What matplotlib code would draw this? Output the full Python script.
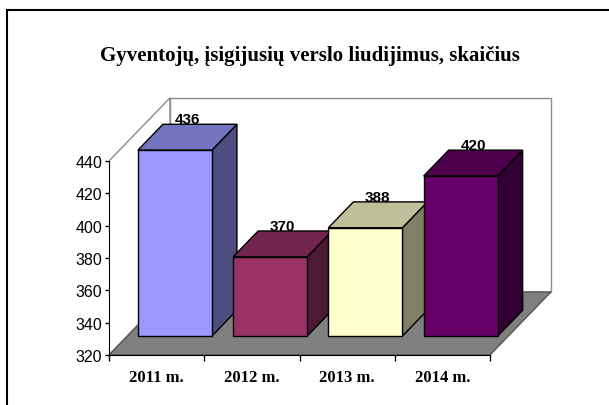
import numpy as np
import matplotlib
matplotlib.use("Agg")
import matplotlib.pyplot as plt
from matplotlib.patches import Polygon, Rectangle
from matplotlib.colors import to_rgb

# === DATA ===
categories = ["2011 m.", "2012 m.", "2013 m.", "2014 m."]
values = [436, 370, 388, 420]
bar_colors = ["#9999FF", "#993366", "#FFFFCC", "#660066"]
title = "Gyventojų, įsigijusių verslo liudijimus, skaičius"
y_ticks = [320, 340, 360, 380, 400, 420, 440]

# === 3D-LOOK SETTINGS (oblique projection in data units) ===
Y_MIN, Y_MAX = 320, 440
DX, DY = 0.64, 39.0          # full floor depth offset (x in categories, y in value units)
Z0, ZB = 0.30, 0.41          # bar front depth and bar depth as fraction of floor depth
BAR_W = 0.777
WALL_EDGE = "#8c8c8c"
FLOOR = "#808080"

W, H = 609, 406
fig = plt.figure(figsize=(W / 100, H / 100), dpi=100)

# axes placed so that the front floor edge / left axis line up with the reference
x_lim = (0, 4.7)
y_lim = (Y_MIN, 480)
px_per_x = 95.25
px_per_y = 1.617
ax = fig.add_axes([109 / W, 50 / H,
                   (x_lim[1] - x_lim[0]) * px_per_x / W,
                   (y_lim[1] - y_lim[0]) * px_per_y / H])
ax.set_xlim(x_lim)
ax.set_ylim(y_lim)
ax.patch.set_visible(False)

n = len(categories)

def shade(c, f):
    r, g, b = to_rgb(c)
    return (r * f, g * f, b * f)

# back wall
ax.add_patch(Polygon([(DX, Y_MIN + DY), (n + DX, Y_MIN + DY), (n + DX, Y_MAX + DY), (DX, Y_MAX + DY)],
                     closed=True, facecolor="white", edgecolor=WALL_EDGE, lw=1, zorder=1))
# left wall
ax.add_patch(Polygon([(0, Y_MIN), (DX, Y_MIN + DY), (DX, Y_MAX + DY), (0, Y_MAX)],
                     closed=True, facecolor="white", edgecolor=WALL_EDGE, lw=1, zorder=1))
# floor
ax.add_patch(Polygon([(0, Y_MIN), (n, Y_MIN), (n + DX, Y_MIN + DY), (DX, Y_MIN + DY)],
                     closed=True, facecolor=FLOOR, edgecolor="#555555", lw=1, zorder=2))

# bars
dxb, dyb = ZB * DX, ZB * DY
for i, (v, c) in enumerate(zip(values, bar_colors)):
    x0 = i + 0.5 - BAR_W / 2 + Z0 * DX
    x1 = x0 + BAR_W
    yb = Y_MIN + Z0 * DY
    yt = v + Z0 * DY - 1
    front = [(x0, yb), (x1, yb), (x1, yt), (x0, yt)]
    top = [(x0, yt), (x1, yt), (x1 + dxb, yt + dyb), (x0 + dxb, yt + dyb)]
    side = [(x1, yb), (x1 + dxb, yb + dyb), (x1 + dxb, yt + dyb), (x1, yt)]
    z = 3 + i
    ax.add_patch(Polygon(side, closed=True, facecolor=shade(c, 0.5), edgecolor="black", lw=1, zorder=z))
    ax.add_patch(Polygon(top, closed=True, facecolor=shade(c, 0.75), edgecolor="black", lw=1, zorder=z))
    ax.add_patch(Polygon(front, closed=True, facecolor=c, edgecolor="black", lw=1, zorder=z))
    ax.text((x0 + x1) / 2 + dxb / 2, yt + dyb - 1, str(v), ha="center", va="bottom",
            fontsize=11, fontweight="bold", family="Liberation Sans", zorder=10)

# axes styling
for s in ["top", "right"]:
    ax.spines[s].set_visible(False)
ax.spines["left"].set_bounds(Y_MIN, Y_MAX)
ax.spines["bottom"].set_bounds(0, n)
ax.spines["left"].set_zorder(10)
ax.spines["bottom"].set_zorder(10)
ax.set_yticks(y_ticks)
ax.set_yticklabels([str(t) for t in y_ticks], fontsize=11.5, family="Liberation Sans")
ax.tick_params(axis="y", length=3, width=1, pad=2)
ax.set_xticks(np.arange(n + 1))
ax.set_xticklabels([])
ax.tick_params(axis="x", which="major", length=4, width=1)
ax.set_xticks(np.arange(n) + 0.5, minor=True)
ax.set_xticklabels(categories, minor=True, fontsize=12, fontweight="bold", family="Liberation Serif")
ax.tick_params(axis="x", which="minor", length=0, pad=10)

# title and frame
fig.text(310 / W, 1 - 56 / H, title, ha="center", va="center", fontsize=15,
         fontweight="bold", family="Liberation Serif")
fig.patches.append(Rectangle((7 / W, -0.05), 1.1, 1 - 11 / H + 0.05, transform=fig.transFigure,
                             fill=False, edgecolor="black", lw=1.5))

fig.savefig("out.png", dpi=100)
